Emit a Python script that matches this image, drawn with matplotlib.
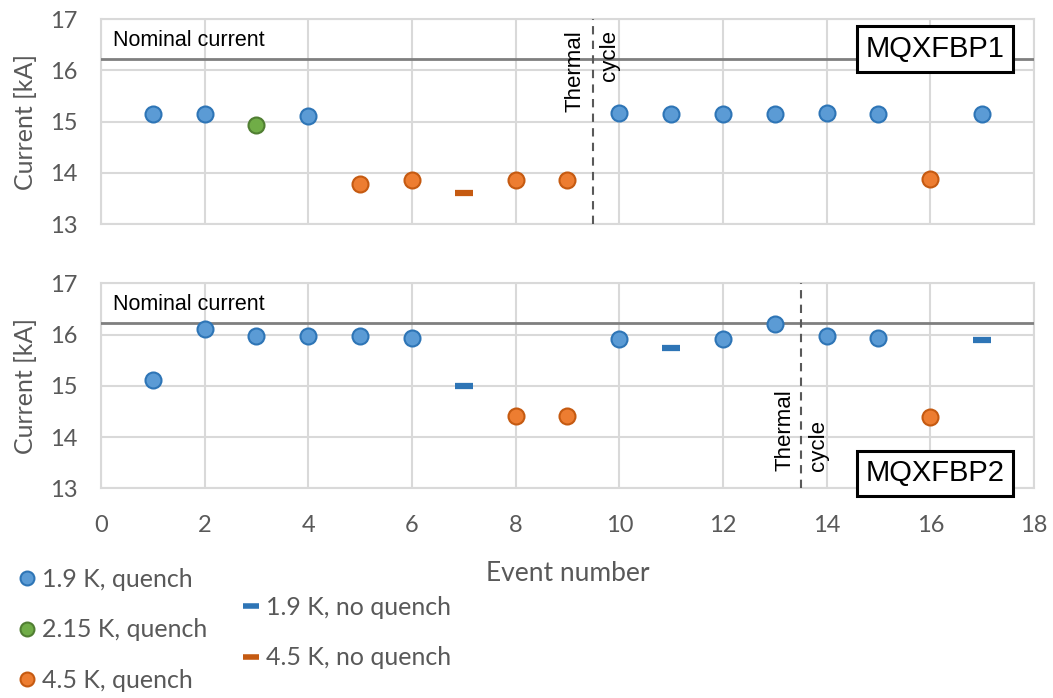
import matplotlib.pyplot as plt
from matplotlib.lines import Line2D

# Data
events = list(range(1, 18))
nominal = 16.22

# MQXFBP1
p1_q19_x = [1, 2, 4, 10, 11, 12, 13, 14, 15, 17]
p1_q19_y = [15.15, 15.15, 15.11, 15.16, 15.15, 15.15, 15.15, 15.17, 15.15, 15.15]
p1_q215_x = [3]
p1_q215_y = [14.94]
p1_q45_x = [5, 6, 8, 9, 16]
p1_q45_y = [13.79, 13.85, 13.85, 13.85, 13.87]
p1_nq45_x = [7]
p1_nq45_y = [13.60]
p1_thermal = 9.5

# MQXFBP2
p2_q19_x = [1, 2, 3, 4, 5, 6, 10, 12, 13, 14, 15]
p2_q19_y = [15.12, 16.11, 15.97, 15.97, 15.97, 15.94, 15.91, 15.91, 16.21, 15.97, 15.94]
p2_q45_x = [8, 9, 16]
p2_q45_y = [14.42, 14.42, 14.40]
p2_nq19_x = [7, 11, 17]
p2_nq19_y = [15.00, 15.74, 15.89]
p2_thermal = 13.5

blue, blue_edge = '#5B9BD5', '#2E75B6'
green, green_edge = '#70AD47', '#507E32'
orange, orange_edge = '#ED7D31', '#C55A11'
grid_c = '#D9D9D9'
tick_c = '#595959'
arial = 'Liberation Sans'

plt.rcParams['font.family'] = ['Lato', 'DejaVu Sans']

fig = plt.figure(figsize=(10.53, 6.98), dpi=100)
ax1 = fig.add_axes([0.0959, 0.679, 0.886, 0.2937])
ax2 = fig.add_axes([0.0959, 0.3004, 0.886, 0.2937])


def circles(ax, x, y, fc, ec):
    ax.plot(x, y, linestyle='none', marker='o', ms=11.5, mfc=fc, mec=ec, mew=1.5, zorder=5)


def dashes(ax, x, y, c):
    ax.plot(x, y, linestyle='none', marker='_', ms=13, mec=c, mew=4.5, zorder=5)


for ax in (ax1, ax2):
    ax.set_xlim(0, 18)
    ax.set_ylim(13, 17)
    ax.set_xticks(range(0, 19, 2))
    ax.set_yticks(range(13, 18))
    ax.grid(True, color=grid_c, linewidth=1.5)
    ax.set_axisbelow(True)
    for s in ax.spines.values():
        s.set_color(grid_c)
        s.set_linewidth(1.5)
    ax.tick_params(length=0, labelsize=17, colors=tick_c)
    ax.tick_params(axis='y', pad=17)
    ax.tick_params(axis='x', pad=19)
    ax.set_ylabel('Current [kA]', fontsize=18, color=tick_c, labelpad=9)
    ax.axhline(nominal, color='#7F7F7F', linewidth=2, zorder=3)
    ax.text(0.23, 16.58, 'Nominal current', fontsize=15.5, family=arial, va='center', ha='left')

ax1.tick_params(labelbottom=False)

circles(ax1, p1_q19_x, p1_q19_y, blue, blue_edge)
circles(ax1, p1_q215_x, p1_q215_y, green, green_edge)
circles(ax1, p1_q45_x, p1_q45_y, orange, orange_edge)
dashes(ax1, p1_nq45_x, p1_nq45_y, orange_edge)
ax1.axvline(p1_thermal, color='#595959', linestyle=(0, (4, 3)), linewidth=1.5, zorder=4)
ax1.text(p1_thermal - 0.15, 16.78, 'Thermal', rotation=90, ha='right', va='top',
         fontsize=16, family=arial)
ax1.text(p1_thermal + 0.1, 16.78, 'cycle', rotation=90, ha='left', va='top',
         fontsize=16, family=arial)
ax1.text(16.09, 16.42, 'MQXFBP1', fontsize=21, family=arial, ha='center', va='center',
         bbox=dict(boxstyle='square,pad=0.3', fc='white', ec='black', lw=2.2), zorder=6)

circles(ax2, p2_q19_x, p2_q19_y, blue, blue_edge)
circles(ax2, p2_q45_x, p2_q45_y, orange, orange_edge)
dashes(ax2, p2_nq19_x, p2_nq19_y, blue_edge)
ax2.axvline(p2_thermal, color='#595959', linestyle=(0, (4, 3)), linewidth=1.5, zorder=4)
ax2.text(p2_thermal - 0.1, 13.34, 'Thermal', rotation=90, ha='right', va='bottom',
         fontsize=16, family=arial)
ax2.text(p2_thermal + 0.15, 13.34, 'cycle', rotation=90, ha='left', va='bottom',
         fontsize=16, family=arial)
ax2.text(16.09, 13.29, 'MQXFBP2', fontsize=21, family=arial, ha='center', va='center',
         bbox=dict(boxstyle='square,pad=0.3', fc='white', ec='black', lw=2.2), zorder=6,
         clip_on=False)
ax2.set_xlabel('Event number', fontsize=19, color=tick_c, labelpad=18)

h_q19 = Line2D([], [], linestyle='none', marker='o', ms=10, mfc=blue, mec=blue_edge, mew=1.5)
h_q215 = Line2D([], [], linestyle='none', marker='o', ms=10, mfc=green, mec=green_edge, mew=1.5)
h_q45 = Line2D([], [], linestyle='none', marker='o', ms=10, mfc=orange, mec=orange_edge, mew=1.5)
h_nq19 = Line2D([], [], linestyle='none', marker='_', ms=12, mec=blue_edge, mew=4)
h_nq45 = Line2D([], [], linestyle='none', marker='_', ms=12, mec=orange_edge, mew=4)

leg_kw = dict(loc='upper left', frameon=False, fontsize=18, labelspacing=1.09,
              handletextpad=0.1, handlelength=1.0, borderaxespad=0, borderpad=0,
              labelcolor=tick_c)
fig.legend([h_q19, h_q215, h_q45], ['1.9 K, quench', '2.15 K, quench', '4.5 K, quench'],
           bbox_to_anchor=(0.014, 0.186), **leg_kw)
fig.legend([h_nq19, h_nq45], ['1.9 K, no quench', '4.5 K, no quench'],
           bbox_to_anchor=(0.2265, 0.146), **leg_kw)

fig.savefig('out.png', dpi=100)
